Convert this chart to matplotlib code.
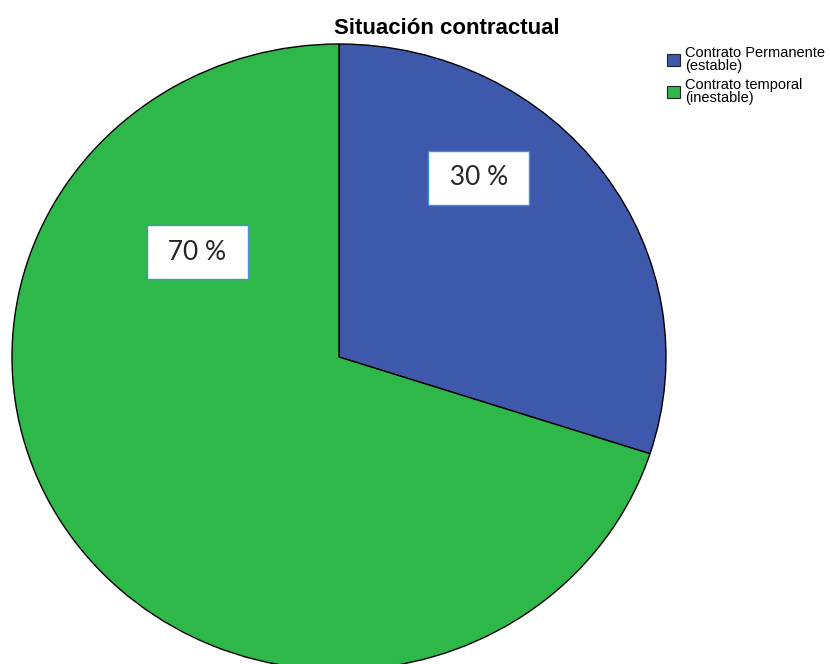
import matplotlib
matplotlib.use("Agg")
import matplotlib.pyplot as plt
from matplotlib.patches import Patch

# ======================== DATA ========================
categories = ["Contrato Permanente\n(estable)", "Contrato temporal\n(inestable)"]
percentages = [30, 70]
slice_colors = ["#3E58AC", "#2EB84A"]
label_texts = ["30 %", "70 %"]
# label anchor points in pie units (SPSS puts them off the mid-angle)
label_x = [0.428, -0.434]
label_y = [0.572, 0.335]

# ======================== FIGURE ========================
W, H = 830, 664
fig = plt.figure(figsize=(W / 100, H / 100), dpi=100)

# pie is slightly elliptical in the reference: 654 px wide, 626 px tall
ax = fig.add_axes([12 / W, (H - 670) / H, 654 / W, 626 / H])
wedges, _ = ax.pie(
    percentages,
    colors=slice_colors,
    startangle=90,
    counterclock=False,
    wedgeprops=dict(edgecolor="black", linewidth=1.0, clip_on=False),
)
ax.set_aspect("auto")
ax.set_xlim(-1, 1)
ax.set_ylim(-1, 1)
ax.axis("off")

# percentage boxes (padded with spaces to get the wide SPSS box)
for x, y, txt in zip(label_x, label_y, label_texts):
    ax.text(x, y, " " + txt + " ", ha="center", va="center", fontsize=19,
            family=["Lato", "DejaVu Sans"], color="#262626",
            bbox=dict(boxstyle="square,pad=0.55", facecolor="white",
                      edgecolor="#4A8FD4", linewidth=1.0))

# title
fig.text(447 / W, 1 - 28 / H, "Situación contractual", ha="center", va="center",
         fontsize=16, fontweight="bold", family=["Liberation Sans", "DejaVu Sans"])

# legend
handles = [Patch(facecolor=c, edgecolor="#222222", linewidth=0.8) for c in slice_colors]
leg = fig.legend(handles, categories, loc="upper left",
                 bbox_to_anchor=(667 / W, 1 - 46 / H),
                 frameon=False, borderpad=0, borderaxespad=0,
                 handlelength=0.9, handleheight=0.9, handletextpad=0.35,
                 labelspacing=0.35,
                 prop=dict(family=["Liberation Sans", "DejaVu Sans"], size=10.5))
for t in leg.get_texts():
    t.set_linespacing(0.9)

fig.savefig("out.png", dpi=100)
